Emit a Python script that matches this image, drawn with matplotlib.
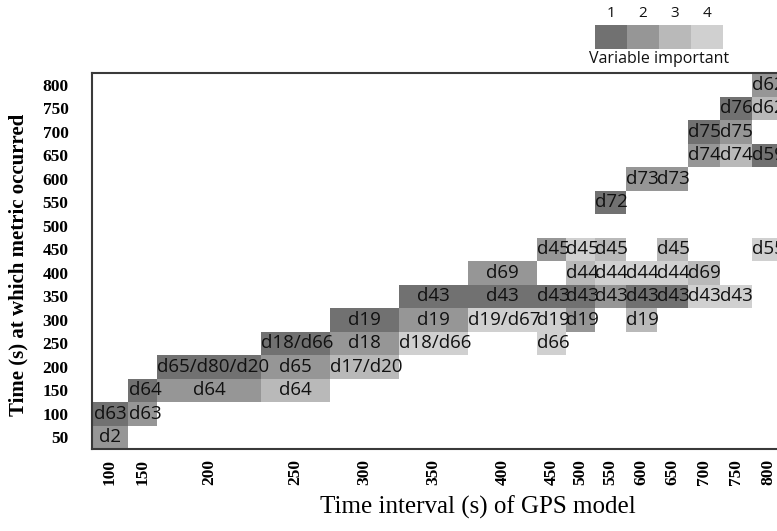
#!/usr/bin/env python3
"""Variable importance per time interval of the GPS model, drawn as a labelled grid."""

import matplotlib

matplotlib.use("Agg")
import matplotlib.pyplot as plt

# columns: time interval (s) of the GPS model
intervals = [100, 150, 200, 250, 300, 350, 400, 450, 500, 550, 600, 650, 700, 750, 800]
# rows: time (s) at which the metric occurred
times = [50, 100, 150, 200, 250, 300, 350, 400, 450, 500, 550, 600, 650, 700, 750, 800]

# filled cells: column, row, variable name(s), importance rank (1 = most important)
cell_interval = [
    100, 100, 150, 150, 200, 250, 200, 250, 300, 250, 300, 350, 450,
    300, 350, 400, 450, 500, 600,
    350, 400, 450, 500, 550, 600, 650, 700, 750,
    400, 500, 550, 600, 650, 700,
    450, 500, 550, 650, 800,
    550, 600, 650, 700, 750, 800, 700, 750, 750, 800, 800,
]
cell_time = [
    50, 100, 100, 150, 150, 150, 200, 200, 200, 250, 250, 250, 250,
    300, 300, 300, 300, 300, 300,
    350, 350, 350, 350, 350, 350, 350, 350, 350,
    400, 400, 400, 400, 400, 400,
    450, 450, 450, 450, 450,
    550, 600, 600, 650, 650, 650, 700, 700, 750, 750, 800,
]
cell_label = [
    "d2", "d63", "d63", "d64", "d64", "d64", "d65/d80/d20", "d65", "d17/d20",
    "d18/d66", "d18", "d18/d66", "d66",
    "d19", "d19", "d19/d67", "d19", "d19", "d19",
    "d43", "d43", "d43", "d43", "d43", "d43", "d43", "d43", "d43",
    "d69", "d44", "d44", "d44", "d44", "d69",
    "d45", "d45", "d45", "d45", "d55",
    "d72", "d73", "d73", "d74", "d74", "d59", "d75", "d75", "d76", "d62", "d62",
]
cell_rank = [
    2, 1, 2, 1, 2, 3, 1, 2, 3, 1, 2, 4, 4,
    1, 2, 4, 4, 2, 3,
    1, 1, 1, 1, 2, 1, 1, 4, 4,
    2, 3, 4, 4, 4, 3,
    2, 4, 3, 3, 4,
    1, 2, 2, 2, 3, 1, 1, 2, 1, 3, 2,
]
ranks = [1, 2, 3, 4]

# layout (pixels): column widths are not uniform in the original figure
col_widths = [36, 29, 104, 69, 69, 69, 69, 29, 29, 31, 31, 31, 32, 32, 32]
rank_colors = {1: "#717171", 2: "#969696", 3: "#b9b9b9", 4: "#d0d0d0"}

W, H = 777, 531


def main() -> int:
    fig = plt.figure(figsize=(W / 100, H / 100), dpi=100)
    fig.patch.set_facecolor("white")

    ax_left, ax_right, ax_top, ax_bottom = 92, 784, 73, 449
    ax = fig.add_axes([
        ax_left / W,
        1 - ax_bottom / H,
        (ax_right - ax_left) / W,
        (ax_bottom - ax_top) / H,
    ])

    col_left = {}
    col_width = {}
    edge = 0
    for interval, width in zip(intervals, col_widths):
        col_left[interval] = edge
        col_width[interval] = width
        edge += width
    row_of = {t: i for i, t in enumerate(times)}

    lefts = [col_left[c] for c in cell_interval]
    widths = [col_width[c] for c in cell_interval]
    bottoms = [row_of[t] for t in cell_time]
    bars = ax.bar(
        lefts,
        1,
        width=widths,
        bottom=bottoms,
        align="edge",
        color=[rank_colors[r] for r in cell_rank],
        linewidth=0,
    )

    labels = []
    for patch, left, width, bottom, text in zip(bars.patches, lefts, widths, bottoms, cell_label):
        t = ax.text(
            left + width / 2,
            bottom + 0.5,
            text,
            ha="center",
            va="center",
            fontsize=13.5,
            family="Open Sans",
            color="#111111",
        )
        t.set_clip_path(patch)
        labels.append((t, left, width))

    ax.set_xlim(0, edge)
    ax.set_ylim(0, len(times))

    # labels that do not fit their cell start at the left edge and are cut on the right
    fig.canvas.draw()
    renderer = fig.canvas.get_renderer()
    for t, left, width in labels:
        if t.get_window_extent(renderer).width > width - 1:
            t.set_x(left + 0.5)
            t.set_ha("left")

    ax.set_xticks([col_left[c] + col_width[c] / 2 for c in intervals])
    ax.set_xticklabels([str(c) for c in intervals], rotation=90,
                       family="Liberation Serif", fontweight="bold", fontsize=12.5)
    ax.set_yticks([i + 0.5 for i in range(len(times))])
    ax.set_yticklabels([str(t) for t in times],
                       family="Liberation Serif", fontweight="bold", fontsize=12.5)
    ax.tick_params(axis="both", length=0)
    ax.tick_params(axis="x", pad=7)
    ax.tick_params(axis="y", pad=17)
    for side in ["left", "bottom", "top", "right"]:
        ax.spines[side].set_color("#3a3a3a")
        ax.spines[side].set_linewidth(1.5)

    fig.text(478 / W, 1 - 507 / H, "Time interval (s) of GPS model",
             ha="center", va="center", fontsize=18, family="Liberation Serif")
    fig.text(18 / W, 1 - 265 / H, "Time (s) at which metric occurred",
             ha="center", va="center", rotation=90, fontsize=15,
             family="Liberation Serif", fontweight="bold")

    # legend of importance ranks
    lax = fig.add_axes([595 / W, 1 - 49 / H, 128 / W, 24 / H])
    lax.bar(range(len(ranks)), 1, width=1, align="edge",
            color=[rank_colors[r] for r in ranks], linewidth=0)
    lax.set_xlim(0, len(ranks))
    lax.set_ylim(0, 1)
    lax.axis("off")
    for i, r in enumerate(ranks):
        lax.text(i + 0.5, 1.15, str(r), ha="center", va="bottom",
                 fontsize=11, family="Open Sans", color="#111111")
    lax.text(len(ranks) / 2, -0.1, "Variable important", ha="center", va="top",
             fontsize=11.5, family="Open Sans", color="#111111")

    fig.savefig("out.png", dpi=100, facecolor="white")
    plt.close(fig)
    return 0


if __name__ == "__main__":
    raise SystemExit(main())
